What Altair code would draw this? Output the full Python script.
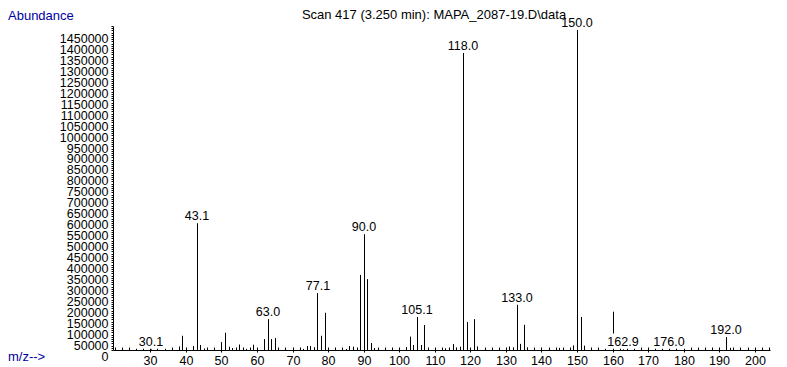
import altair as alt
import pandas as pd

# ---- data ----
peak_mz = [30.1, 38, 39, 40, 42, 43, 44, 45, 50, 51, 52, 53, 55, 57, 59, 62, 63, 64, 65,
           73, 74, 75, 76, 77, 78, 79, 85, 86, 87, 88, 89, 90, 91, 92, 93,
           102, 103, 104, 105, 106, 107, 113, 115, 116, 117, 118, 119, 121, 122,
           131, 132, 133, 134, 135, 136, 145, 149, 150, 151, 152, 160, 162.9, 176.0, 192, 193]
peak_abundance = [3000, 16000, 65000, 9000, 18000, 579000, 23000, 7000, 36000, 79000, 15000, 9000, 25000, 5000, 24000, 50000, 141000, 50000, 55000,
                  5000, 18000, 18000, 12000, 260000, 65000, 170000, 5000, 18000, 15000, 9000, 343000, 529000, 324000, 32000, 9000,
                  12000, 61000, 23000, 151000, 23000, 114000, 8000, 27000, 10000, 15000, 1357000, 128000, 141000, 16000,
                  16000, 10000, 207000, 28000, 115000, 11000, 10000, 21000, 1462000, 151000, 20000, 175000, 3000, 3000, 59000, 10000]

label_mz = [30.1, 43.1, 63.0, 77.1, 90.0, 105.1, 118.0, 133.0, 150.0, 162.9, 176.0, 192.0]
label_abundance = [3000, 579000, 141000, 260000, 529000, 151000, 1357000, 207000, 1462000, 3000, 3000, 59000]
label_text = ["30.1", "43.1", "63.0", "77.1", "90.0", "105.1", "118.0", "133.0", "150.0", "162.9", "176.0", "192.0"]

x_label_values = list(range(30, 201, 10))
x_minor_values = list(range(20, 205, 2))
y_tick_values = list(range(0, 1480001, 10000))

title_text = "Scan 417 (3.250 min): MAPA_2087-19.D\\data"
y_title_text = "Abundance"
x_title_text = "m/z-->"

# ---- chart ----
W, H = 657, 324
FONT = '"Liberation Sans", Arial, sans-serif'
FS = 12.5
BLUE = "#0000a0"

peaks = pd.DataFrame({"mz": peak_mz, "ab": peak_abundance})
labels = pd.DataFrame({"mz": label_mz, "ab": label_abundance, "txt": label_text})

x_scale = alt.Scale(domain=[19.5, 204.3], nice=False, zero=False, round=True)
y_scale = alt.Scale(domain=[0, 1480000], nice=False, zero=True)

x_axis = alt.Axis(orient="bottom", values=x_label_values, tickSize=2, labelPadding=2, title=None,
                  grid=False, domainColor="black", tickColor="black", labelColor="black",
                  labelFont=FONT, labelFontSize=FS, labelAngle=0, labelOverlap=False,
                  labelFlush=False)
y_axis = alt.Axis(orient="left", values=y_tick_values, tickSize=2, labelPadding=3, title=None,
                  grid=False, labelExpr="datum.value % 50000 == 0 ? '' + datum.value : ''",
                  labelBaseline="top", domainColor="black", tickColor="black",
                  labelColor="black", labelFont=FONT, labelFontSize=FS,
                  labelOverlap=False, labelFlush=False)
minor_axis = alt.Axis(orient="top", offset=-H, values=x_minor_values, tickSize=3,
                      labels=False, domain=False, title=None, grid=False, tickColor="black")

bars = alt.Chart(peaks).mark_rule(color="black", strokeWidth=1, xOffset=0.5).encode(
    x=alt.X("mz:Q", scale=x_scale, axis=x_axis),
    y=alt.Y("ab:Q", scale=y_scale, axis=y_axis),
    y2=alt.datum(0),
)

minor = alt.Chart(peaks).mark_point(opacity=0).encode(
    x=alt.X("mz:Q", scale=x_scale, axis=minor_axis),
    y=alt.Y("ab:Q", scale=y_scale, axis=y_axis),
)

boxes = alt.Chart(labels).transform_calculate(
    x1="datum.mz - 5", x2="datum.mz + 5", y1="datum.ab + 2500", y2="datum.ab + 72000"
).mark_rect(color="white").encode(
    x=alt.X("x1:Q", scale=x_scale, axis=None),
    x2="x2:Q",
    y=alt.Y("y1:Q", scale=y_scale, axis=y_axis),
    y2="y2:Q",
)

texts = alt.Chart(labels).mark_text(font=FONT, fontSize=FS, color="black",
                                    baseline="alphabetic", dy=-3).encode(
    x=alt.X("mz:Q", scale=x_scale, axis=None),
    y=alt.Y("ab:Q", scale=y_scale, axis=y_axis),
    text="txt:N",
)

title = alt.Chart(pd.DataFrame({"t": [title_text]})).mark_text(
    font=FONT, fontSize=13, color="black", align="center", baseline="middle"
).encode(x=alt.value(321), y=alt.value(-11.5), text="t:N")

ytitle = alt.Chart(pd.DataFrame({"t": [y_title_text]})).mark_text(
    font=FONT, fontSize=13, color=BLUE, align="left", baseline="middle"
).encode(x=alt.value(-105), y=alt.value(-10.5), text="t:N")

xtitle = alt.Chart(pd.DataFrame({"t": [x_title_text]})).mark_text(
    font=FONT, fontSize=13, color=BLUE, align="left", baseline="middle"
).encode(x=alt.value(-105), y=alt.value(331), text="t:N")

chart = alt.layer(bars, minor, boxes, texts, title, ytitle, xtitle).resolve_axis(
    x="independent", y="shared"
).properties(
    width=W, height=H,
    padding={"left": 105, "top": 18, "right": 8, "bottom": 17},
    autosize=alt.AutoSizeParams(type="none"),
    background="white",
).configure_view(stroke=None)

chart.save("out.html", embed_options={"renderer": "svg", "actions": False})
